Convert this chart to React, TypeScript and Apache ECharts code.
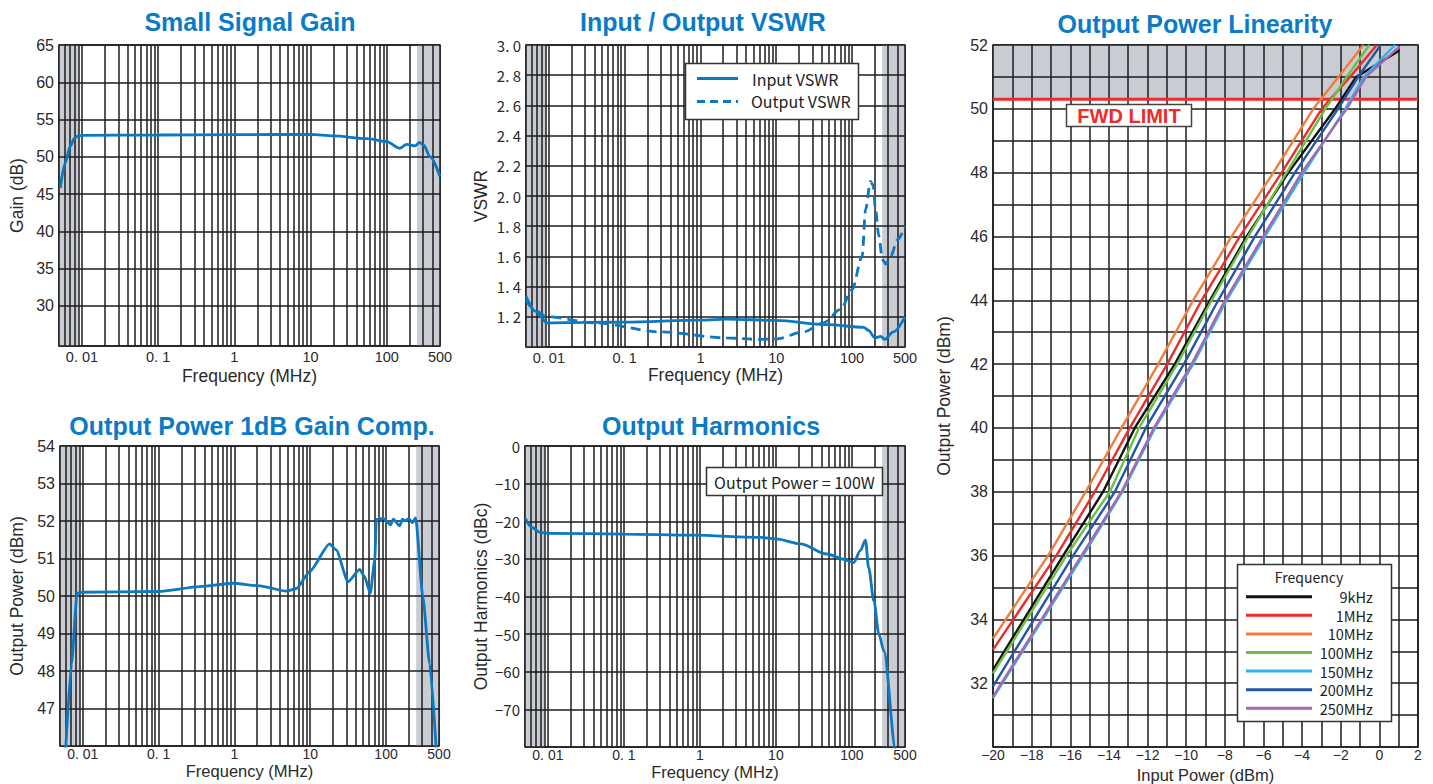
import React, { useEffect, useRef } from 'react';
import * as echarts from 'echarts';

const BLUE = '#0b78c2';
const TITLE_BLUE = '#0a7bc8';
const GRAY = '#c9ccd3';
const GRID_COLOR = '#1c1c1c';
const TEXT = '#2a2a2a';
const SANS = "'Liberation Sans', Arial, sans-serif";
const NARROW = "'Liberation Sans Narrow', 'Liberation Sans', sans-serif";
const GOTHIC = "'Noto Sans CJK JP', 'Noto Sans', sans-serif";

// ---------------- data ----------------
const FREQ_MIN = 0.005;
const FREQ_MAX = 500;
const freqLabels = [0.01, 0.1, 1, 10, 100, 500];
const bandLow = [0.005, 0.009];
const bandHigh = [250, 500];

const gainFreq = [0.0052, 0.006, 0.007, 0.008, 0.009, 0.01, 0.1, 1, 10, 20, 55, 100, 147, 183, 236, 269, 304, 371, 500];
const gainDb = [45.8, 49.1, 51.4, 52.5, 52.8, 52.88, 52.92, 52.97, 53.0, 52.79, 52.43, 52.03, 51.14, 51.67, 51.45, 51.94, 51.58, 50.0, 47.33];
const gainTicks = [30, 35, 40, 45, 50, 55, 60, 65];

const vswrInFreq = [0.005, 0.0067, 0.0095, 0.03, 0.1, 1, 2.2, 10, 47, 143, 165, 200, 240, 270, 350, 500];
const vswrIn = [1.335, 1.236, 1.16, 1.163, 1.165, 1.178, 1.185, 1.176, 1.148, 1.13, 1.11, 1.06, 1.07, 1.05, 1.1, 1.2];
const vswrOutFreq = [0.005, 0.0067, 0.0095, 0.04, 0.3, 2.2, 6, 10, 23, 42, 71, 100, 136, 151, 175, 190, 204, 226, 251, 278, 323, 398, 500];
const vswrOut = [1.31, 1.24, 1.2, 1.16, 1.1, 1.06, 1.05, 1.053, 1.1, 1.16, 1.25, 1.38, 1.6, 1.91, 2.096, 2.07, 1.91, 1.735, 1.58, 1.55, 1.6, 1.71, 1.8];
const vswrTicks = [1.2, 1.4, 1.6, 1.8, 2.0, 2.2, 2.4, 2.6, 2.8, 3.0];

const p1dbFreq = [0.0059, 0.0071, 0.0084, 0.0096, 0.1, 0.35, 0.96, 2.16, 4.85, 6.6, 9.8, 18, 22, 31.5, 45, 51.9, 62, 71, 74.6, 91.5, 115, 125, 151, 165, 176, 200, 223, 246, 306, 376, 470];
const p1dbVal = [45.8, 48.2, 50.07, 50.1, 50.12, 50.25, 50.34, 50.27, 50.13, 50.2, 50.65, 51.39, 51.23, 50.38, 50.71, 50.52, 50.07, 50.96, 52.04, 52.07, 51.9, 52.05, 51.87, 52.05, 52.0, 52.06, 51.95, 52.08, 49.98, 48.2, 45.6];
const p1dbTicks = [47, 48, 49, 50, 51, 52, 53, 54];

const harmFreq = [0.0051, 0.0061, 0.0079, 0.01, 0.1, 0.82, 6.25, 10, 21, 47, 78, 106, 129, 151, 166, 195, 227, 264, 377, 400];
const harmVal = [-19.4, -21.6, -22.95, -23.2, -23.4, -23.7, -24.3, -24.7, -26.0, -28.7, -30.1, -31.0, -27.8, -25.0, -32.3, -41.2, -50.1, -54.5, -80.7, -84];
const harmTicks = [-70, -60, -50, -40, -30, -20, -10, 0];

const linNames = ['9kHz', '1MHz', '10MHz', '100MHz', '150MHz', '200MHz', '250MHz'];
const linColors = ['#111111', '#ee2a2a', '#f47b3c', '#6abf45', '#2cb5ea', '#2356a8', '#a567b6'];
const lin9kIn = [-20, -16.37, -14.3, -12.66, -10.59, -8.77, -6.87, -4.71, -2.29, -1.2, 1.04];
const lin9kOut = [32.42, 36, 38, 40, 42, 44, 46, 48, 50, 51, 51.83];
const lin1mIn = [-20, -16.72, -14.73, -12.92, -10.98, -9.2, -7.22, -5.06, -2.98, -1.52, -0.13];
const lin1mOut = [33.05, 36, 38, 40, 42, 44, 46, 48, 50, 51, 52];
const lin10mIn = [-20, -17.15, -15.2, -13.35, -11.45, -9.64, -7.65, -5.49, -3.42, -2.12, -0.83];
const lin10mOut = [33.4, 36, 38, 40, 42, 44, 46, 48, 50, 51, 52];
const lin100mIn = [-20, -16.2, -13.95, -12.44, -10.47, -8.68, -6.79, -4.8, -2.8, -1.69, -0.52];
const lin100mOut = [32.31, 36, 38, 40, 42, 44, 46, 48, 50, 51, 52];
const lin150mIn = [-20, -15.34, -13.3, -11.61, -9.64, -7.91, -5.92, -3.9, -1.77, -0.8, 0.81];
const lin150mOut = [31.53, 36, 38, 40, 42, 44, 46, 48, 50, 51, 52];
const lin200mIn = [-20, -15.85, -13.69, -12.09, -10.12, -8.34, -6.44, -4.37, -2.14, -1.1, 0.07];
const lin200mOut = [31.9, 36, 38, 40, 42, 44, 46, 48, 50, 51, 52];
const lin250mIn = [-20, -15.42, -13.35, -11.67, -9.72, -7.99, -6.01, -4.02, -1.69, -0.7, 1.04];
const lin250mOut = [31.58, 36, 38, 40, 42, 44, 46, 48, 50, 51, 51.95];
const linIn = [lin9kIn, lin1mIn, lin10mIn, lin100mIn, lin150mIn, lin200mIn, lin250mIn];
const linOut = [lin9kOut, lin1mOut, lin10mOut, lin100mOut, lin150mOut, lin200mOut, lin250mOut];
const fwdLimit = 50.3;

// ---------------- layout ----------------
const RECTS = [
  { left: 59, top: 45, width: 381, height: 301 },
  { left: 526, top: 45, width: 379, height: 302 },
  { left: 60, top: 446, width: 379, height: 300 },
  { left: 525, top: 446, width: 380, height: 301 },
  { left: 993, top: 45, width: 425, height: 702 },
];

const minus = (v: number) => (v < 0 ? '\u2212' + Math.abs(v) : String(v));

const fmtFreq = (v: number) => {
  if (v < 0.0099) return '';
  if (Math.abs(v / 0.01 - 1) < 1e-6) return '0. 01';
  if (Math.abs(v / 0.1 - 1) < 1e-6) return '0. 1';
  return String(Math.round(v));
};

const freqPanels = [
  { yMin: 24.6, yMax: 65, yTicks: gainTicks, yName: 'Gain (dB)', fmt: (v: number) => String(v), font: NARROW, size: 16, yGap: 33, xGap: 21, xMargin: 3, xSize: 14.5, nameSize: 17.5 },
  { yMin: 1, yMax: 3, yTicks: vswrTicks, yName: 'VSWR', fmt: (v: number) => v.toFixed(1).replace('.', '. '), font: GOTHIC, size: 15, yGap: 36, xGap: 19, xMargin: 3, xSize: 14.5, nameSize: 17.5 },
  { yMin: 46, yMax: 54, yTicks: p1dbTicks, yName: 'Output Power (dBm)', fmt: (v: number) => String(v), font: NARROW, size: 16, yGap: 34, xGap: 16, xMargin: 1, xSize: 14, nameSize: 16.5 },
  { yMin: -80, yMax: 0, yTicks: harmTicks, yName: 'Output Harmonics (dBc)', fmt: minus, font: GOTHIC, size: 15, yGap: 35, xGap: 16, xMargin: 1, xSize: 14, nameSize: 16.5 },
];

function buildOption() {
  const grids: any[] = [];
  const xAxes: any[] = [];
  const yAxes: any[] = [];
  const series: any[] = [];

  const logGrid: number[] = [];
  for (let e = -3; e <= 2; e++) {
    for (let k = 1; k <= 9; k++) {
      const v = +(k * Math.pow(10, e)).toPrecision(6);
      if (v >= FREQ_MIN - 1e-9 && v <= FREQ_MAX + 1e-9) logGrid.push(v);
    }
  }

  const gridLineStyle = { color: GRID_COLOR, width: 1.5, type: 'solid' };

  const band = (idx: number, pts: number[][], origin: string) => ({
    type: 'line', xAxisIndex: idx, yAxisIndex: idx, data: pts, symbol: 'none', showSymbol: false,
    silent: true, z: 1, lineStyle: { width: 0, color: GRAY }, areaStyle: { color: GRAY, opacity: 1, origin },
  });

  const gridLines = (idx: number, data: any[]) => ({
    type: 'line', xAxisIndex: idx, yAxisIndex: idx, data: [], silent: true, clip: false, z: 3,
    markLine: { silent: true, precision: 8, symbol: ['none', 'none'], label: { show: false }, lineStyle: gridLineStyle, animation: false, data },
  });

  freqPanels.forEach((p, i) => {
    grids.push({ ...RECTS[i], show: true, backgroundColor: '#fff', borderColor: GRID_COLOR, borderWidth: 1.5, containLabel: false, outerBoundsMode: 'none' });
    xAxes.push({
      type: 'log', logBase: 10, gridIndex: i, min: FREQ_MIN, max: FREQ_MAX,
      name: 'Frequency (MHz)', nameLocation: 'middle', nameGap: p.xGap,
      nameTextStyle: { fontFamily: SANS, fontSize: p.nameSize, color: TEXT },
      axisLine: { show: false }, axisTick: { show: false }, splitLine: { show: false },
      axisLabel: { customValues: freqLabels, formatter: fmtFreq, margin: p.xMargin, fontFamily: SANS, fontSize: p.xSize, color: TEXT, hideOverlap: false },
    });
    yAxes.push({
      type: 'value', gridIndex: i, min: p.yMin, max: p.yMax,
      name: p.yName, nameLocation: 'middle', nameGap: p.yGap, nameRotate: 90,
      nameTextStyle: { fontFamily: SANS, fontSize: 17.5, color: TEXT },
      axisLine: { show: false }, axisTick: { show: false }, splitLine: { show: false },
      axisLabel: { customValues: p.yTicks, formatter: p.fmt, margin: 5, fontFamily: p.font, fontSize: p.size, color: TEXT },
    });
    series.push(band(i, [[bandLow[0], p.yMax], [bandLow[1], p.yMax]], 'start'));
    series.push(band(i, [[bandHigh[0], p.yMax], [bandHigh[1], p.yMax]], 'start'));
    series.push(gridLines(i, [...logGrid.map((v) => ({ xAxis: v })), ...[p.yMin, ...p.yTicks].map((v) => ({ yAxis: v }))]));
  });

  const line = (name: string, idx: number, xs: number[], ys: number[], extra: any = {}) => ({
    type: 'line', name, xAxisIndex: idx, yAxisIndex: idx,
    data: xs.map((x, k) => [x, ys[k]]), symbol: 'none', showSymbol: false,
    smooth: 0.3, smoothMonotone: 'x', silent: true, z: 10, clip: true,
    lineStyle: { color: BLUE, width: 2.8 }, ...extra,
  });

  series.push(line('Small Signal Gain', 0, gainFreq, gainDb));
  series.push(line('Input VSWR', 1, vswrInFreq, vswrIn));
  series.push(line('Output VSWR', 1, vswrOutFreq, vswrOut, { lineStyle: { color: BLUE, width: 2.8, type: [10, 6] } }));
  series.push(line('Output Power 1dB Gain Comp.', 2, p1dbFreq, p1dbVal, { smooth: 0.2 }));
  series.push(line('Output Harmonics', 3, harmFreq, harmVal));

  // linearity panel
  const li = 4;
  grids.push({ ...RECTS[li], show: true, backgroundColor: '#fff', borderColor: GRID_COLOR, borderWidth: 1.5, containLabel: false, outerBoundsMode: 'none' });
  xAxes.push({
    type: 'value', gridIndex: li, min: -20, max: 2, interval: 2,
    name: 'Input Power (dBm)', nameLocation: 'middle', nameGap: 16,
    nameTextStyle: { fontFamily: SANS, fontSize: 16.5, color: TEXT },
    axisLine: { show: false }, axisTick: { show: false }, splitLine: { show: false },
    axisLabel: { formatter: minus, margin: 1, fontFamily: SANS, fontSize: 14, color: TEXT, showMinLabel: true, showMaxLabel: true },
  });
  yAxes.push({
    type: 'value', gridIndex: li, min: 30, max: 52, interval: 2,
    name: 'Output Power (dBm)', nameLocation: 'middle', nameGap: 40, nameRotate: 90,
    nameTextStyle: { fontFamily: SANS, fontSize: 17.5, color: TEXT },
    axisLine: { show: false }, axisTick: { show: false }, splitLine: { show: false },
    axisLabel: { formatter: (v: number) => (v <= 30 ? '' : String(v)), margin: 5, fontFamily: NARROW, fontSize: 16, color: TEXT },
  });
  const linX: number[] = [];
  for (let v = -20; v <= 2; v++) linX.push(v);
  const linY: number[] = [];
  for (let v = 30; v <= 52; v++) linY.push(v);
  series.push(band(li, [[-20, fwdLimit], [2, fwdLimit]], 'end'));
  series.push(gridLines(li, [...linX.map((v) => ({ xAxis: v })), ...linY.map((v) => ({ yAxis: v }))]));
  series.push({
    type: 'line', name: 'FWD LIMIT', xAxisIndex: li, yAxisIndex: li, data: [[-20, fwdLimit], [2, fwdLimit]],
    symbol: 'none', showSymbol: false, silent: true, z: 8, lineStyle: { color: '#ee2a2a', width: 3 },
  });
  linNames.forEach((n, k) => {
    series.push(line(n, li, linIn[k], linOut[k], { smooth: false, lineStyle: { color: linColors[k], width: 2.4 } }));
  });

  const titleStyle = { fontFamily: SANS, fontSize: 25, fontWeight: 'bold', color: TITLE_BLUE };
  const title = [
    { text: 'Small Signal Gain', left: 250, top: 9 },
    { text: 'Input / Output VSWR', left: 703, top: 9 },
    { text: 'Output Power Linearity', left: 1195, top: 11 },
    { text: 'Output Power 1dB Gain Comp.', left: 252, top: 413 },
    { text: 'Output Harmonics', left: 711, top: 413 },
  ].map((t) => ({ ...t, textAlign: 'center', padding: 0, textStyle: titleStyle }));

  const boxText = { fontFamily: GOTHIC, fontSize: 16, fill: '#222' };
  const legendRows = [596.7, 615.3, 633.9, 652.5, 671.1, 689.7, 708.3];
  const graphic: any[] = [
    // VSWR legend
    { type: 'rect', z: 100, shape: { x: 685.5, y: 63.5, width: 173, height: 56 }, style: { fill: '#fff', stroke: '#333', lineWidth: 1.5 } },
    { type: 'line', z: 101, shape: { x1: 697, y1: 78.5, x2: 738, y2: 78.5 }, style: { stroke: BLUE, lineWidth: 2.8 } },
    { type: 'line', z: 101, shape: { x1: 697, y1: 101.5, x2: 738, y2: 101.5 }, style: { stroke: BLUE, lineWidth: 2.8, lineDash: [8, 5] } },
    { type: 'text', z: 101, x: 752, y: 79, style: { ...boxText, text: 'Input VSWR', verticalAlign: 'middle' } },
    { type: 'text', z: 101, x: 751, y: 101, style: { ...boxText, text: 'Output VSWR', verticalAlign: 'middle' } },
    // Harmonics note
    { type: 'rect', z: 100, shape: { x: 706.5, y: 467.5, width: 176, height: 28 }, style: { fill: '#fff', stroke: '#333', lineWidth: 1.5 } },
    { type: 'text', z: 101, x: 794.5, y: 482, style: { ...boxText, text: 'Output Power = 100W', align: 'center', verticalAlign: 'middle' } },
    // FWD LIMIT
    { type: 'rect', z: 100, shape: { x: 1066.5, y: 104.5, width: 125, height: 22 }, style: { fill: '#fff', stroke: '#444', lineWidth: 1.5 } },
    { type: 'text', z: 101, x: 1129, y: 116, style: { text: 'FWD LIMIT', fontFamily: SANS, fontSize: 20, fontWeight: 'bold', fill: '#ee2a2a', align: 'center', verticalAlign: 'middle' } },
    // Linearity legend
    { type: 'rect', z: 100, shape: { x: 1237.5, y: 564.5, width: 154, height: 157 }, style: { fill: '#fff', stroke: '#333', lineWidth: 1.5 } },
    { type: 'text', z: 101, x: 1309, y: 577, style: { ...boxText, fontSize: 14, text: 'Frequency', align: 'center', verticalAlign: 'middle' } },
  ];
  linNames.forEach((n, k) => {
    graphic.push({ type: 'line', z: 101, shape: { x1: 1246, y1: legendRows[k], x2: 1312, y2: legendRows[k] }, style: { stroke: linColors[k], lineWidth: 3 } });
    graphic.push({ type: 'text', z: 101, x: 1373, y: legendRows[k], style: { ...boxText, fontSize: 14.5, text: n, align: 'right', verticalAlign: 'middle' } });
  });

  return {
    animation: false,
    backgroundColor: '#fff',
    textStyle: { fontFamily: SANS },
    title,
    grid: grids,
    xAxis: xAxes,
    yAxis: yAxes,
    series,
    graphic,
  };
}

export default function App() {
  const ref = useRef<HTMLDivElement>(null);
  useEffect(() => {
    if (!ref.current) return;
    const chart = echarts.init(ref.current, null, { renderer: 'svg' });
    chart.setOption(buildOption() as any);
    return () => chart.dispose();
  }, []);
  return <div ref={ref} style={{ position: 'absolute', left: 0, top: 0, width: 1433, height: 784, background: '#fff' }} />;
}
